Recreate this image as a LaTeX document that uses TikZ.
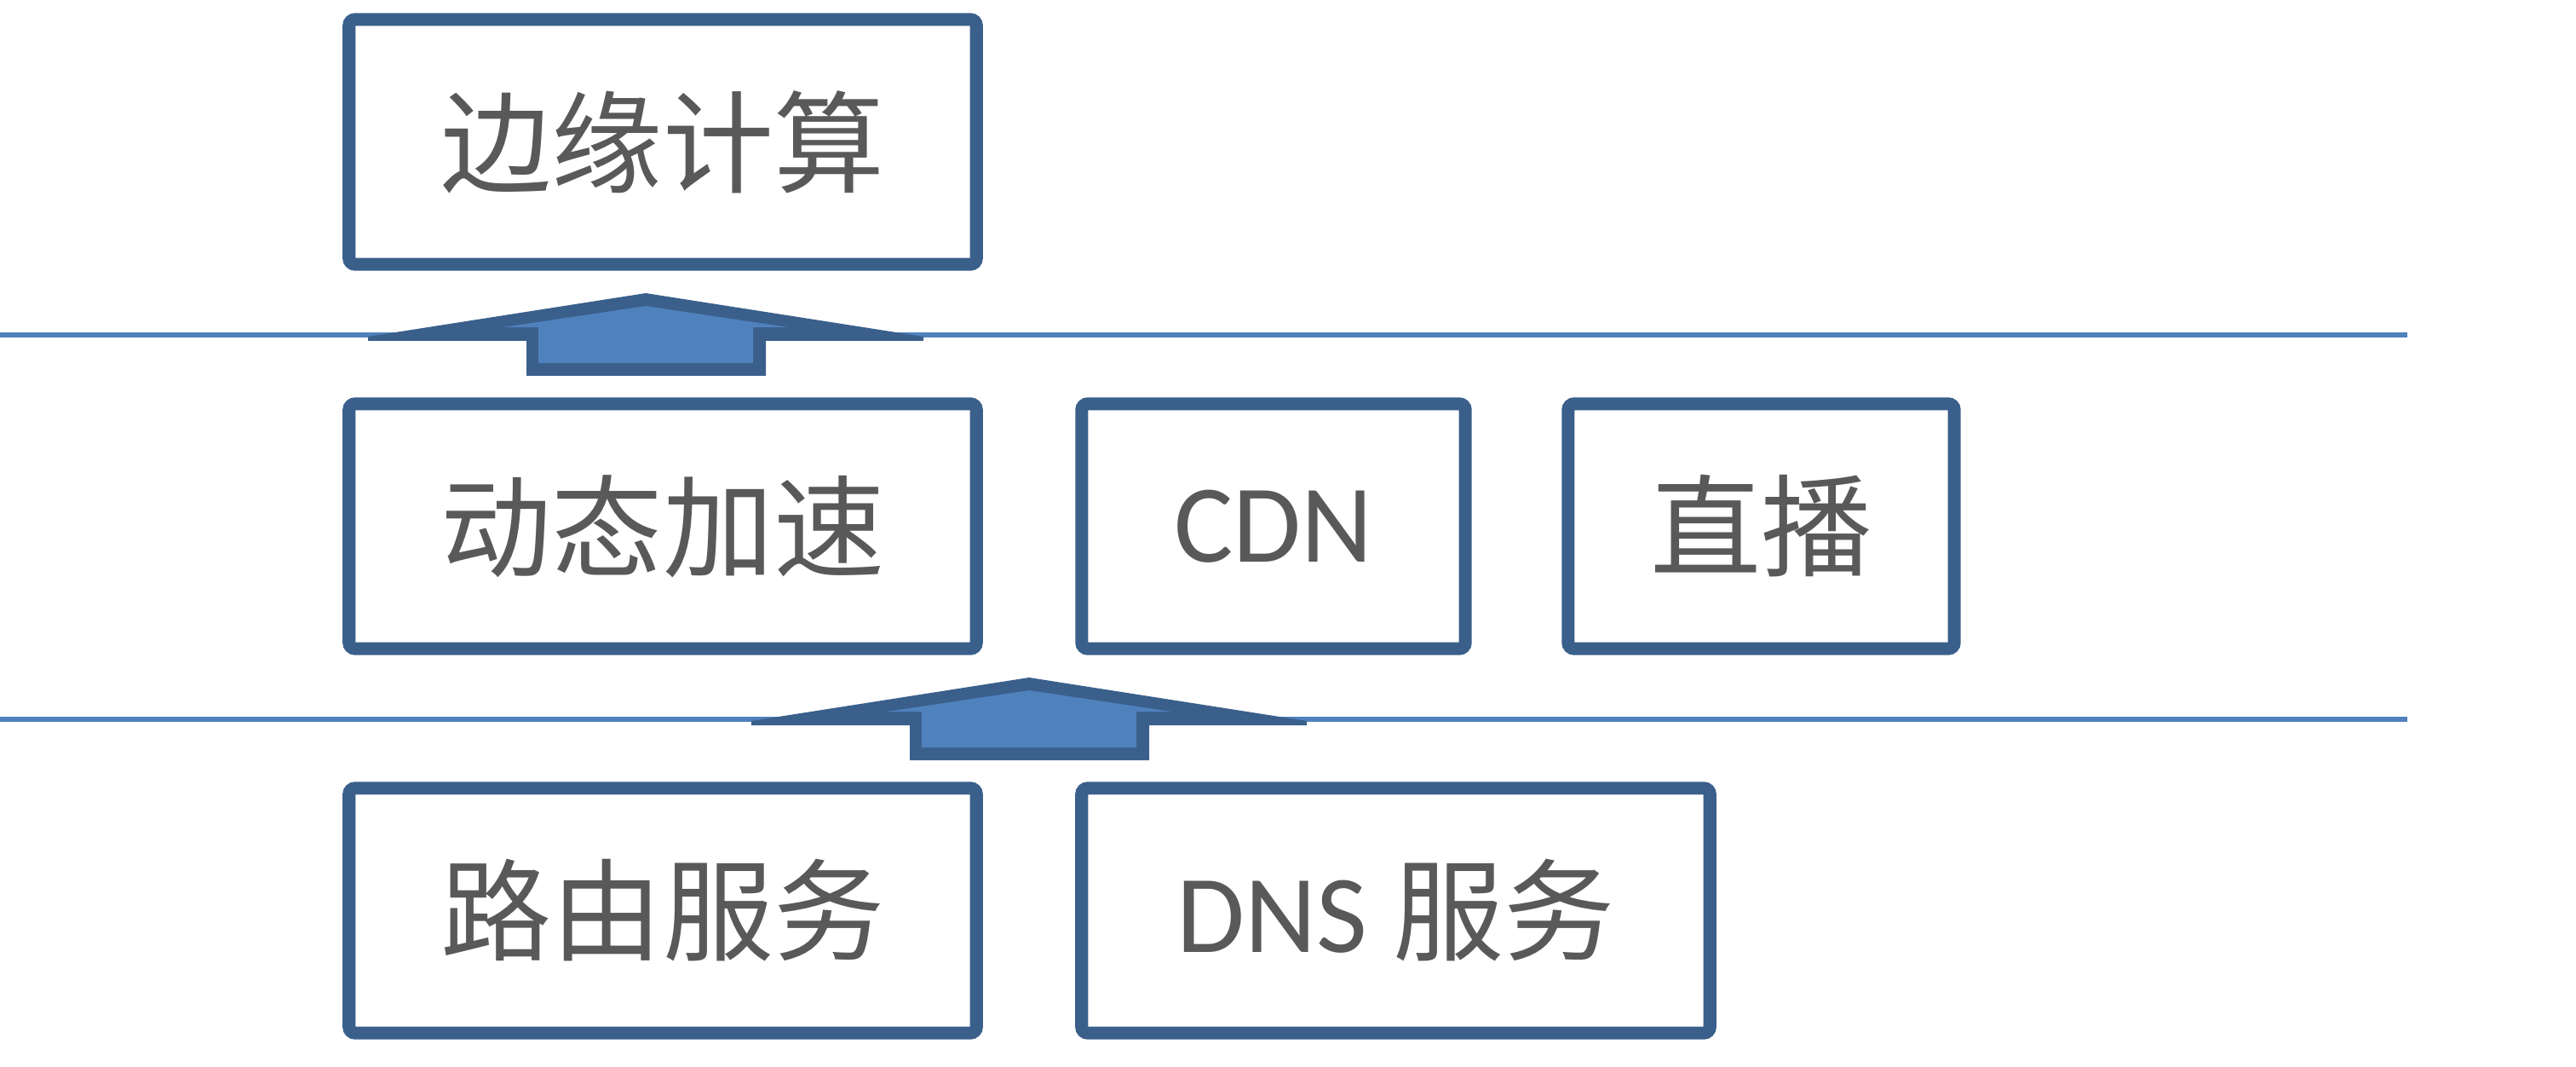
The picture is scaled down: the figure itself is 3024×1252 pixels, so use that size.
\documentclass[tikz,border=0pt]{standalone}
\usepackage{fontspec}
\setmainfont{Carlito}
\newfontfamily\cjk{Noto Sans CJK SC}
\usetikzlibrary{positioning}
\definecolor{boxblue}{RGB}{58,95,139}
\definecolor{fillblue}{RGB}{79,129,189}
\definecolor{textgray}{RGB}{89,89,89}

\begin{document}
\begin{tikzpicture}[x=0.01cm, y=-0.01cm,
    layerbox/.style={draw=boxblue, line width=4.3pt, rounded corners=2pt, fill=white,
      minimum height=2.87cm, inner sep=0pt, outer sep=0pt, text=textgray,
      font=\fontsize{37}{41}\selectfont},
    sepline/.style={draw=fillblue, line width=1.7pt}]
  \useasboundingbox (0,0) rectangle (3024,1252);
  % layer separators
  \draw[sepline] (0,393) -- (2826,393);
  \draw[sepline] (0,844) -- (2826,844);
  % top layer
  \node[layerbox, minimum width=7.36cm] (edge) at (778,166.5) {\cjk 边缘计算};
  % middle layer
  \node[layerbox, minimum width=7.36cm] (dyn) at (778,617.5) {\cjk 动态加速};
  \node[layerbox, minimum width=4.50cm] (cdn) at (1495,617.5) {CDN};
  \node[layerbox, minimum width=4.53cm] (live) at (2067.5,617.5) {\cjk 直播};
  % bottom layer
  \node[layerbox, minimum width=7.36cm] (route) at (778,1068.5) {\cjk 路由服务};
  \node[layerbox, minimum width=7.37cm] (dns) at (1638.5,1068.5) {DNS {\cjk 服务}};
  % block arrows between layers
  \foreach \x/\y in {758/344, 1208/795} {
    \begin{scope}[shift={(\x,\y)}]
      \fill[boxblue] (0,0) -- (326,51) -- (326,56) -- (141,56) -- (141,97)
        -- (-140,97) -- (-140,56) -- (-326,56) -- (-326,51) -- cycle;
      \fill[fillblue] (0,15) -- (167,40) -- (126,40) -- (126,82)
        -- (-126,82) -- (-126,40) -- (-167,40) -- cycle;
    \end{scope}
  }
\end{tikzpicture}
\end{document}
